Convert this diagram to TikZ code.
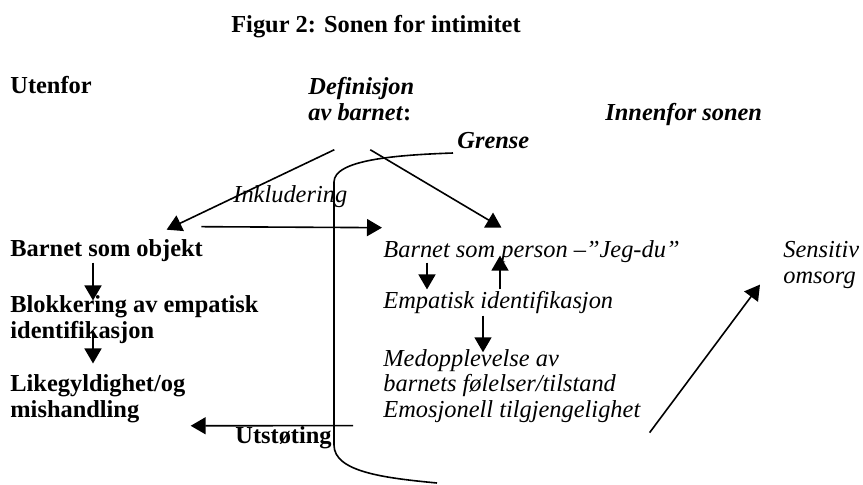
\documentclass[tikz,border=0pt]{standalone}
\usepackage{fontspec}
\setmainfont{Liberation Serif}
\usetikzlibrary{arrows.meta,calc}

\begin{document}
\begin{tikzpicture}[x=0.5pt, y=-0.5pt,
      txt/.style={anchor=base west, inner sep=0pt, align=left,
        font=\fontsize{12.2}{12.6}\selectfont},
      outside/.style={txt, font=\fontsize{12.2}{12.6}\selectfont\bfseries},
      inside/.style={txt, font=\fontsize{12.2}{12.6}\selectfont\itshape},
      heading/.style={txt, font=\fontsize{12.2}{12.6}\selectfont\bfseries\itshape},
      arrow/.style={-{Triangle[length=7.5pt, width=8.5pt]}, line width=0.8pt},
      border/.style={line width=0.8pt}
    ]
      \useasboundingbox (0,0) rectangle (863,484);

      % Title
      \node[outside, anchor=base] (title) at (376,32) {Figur 2: Sonen for intimitet};

      % Headings (multi-line nodes are placed by their last baseline)
      \node[outside] (utenfor) at (10,93) {Utenfor};
      \node[heading] (def) at (308,120) {Definisjon\\av barnet\textup{:}};
      \node[heading] (innenfor) at (605,120) {Innenfor sonen};
      \node[heading] (grense) at (457,148) {Grense};

      % Outside the zone
      \node[outside] (obj) at (10,256) {Barnet som objekt};
      \node[outside] (blokk) at (10,338) {Blokkering av empatisk\\identifikasjon};
      \node[outside] (like) at (10,417) {Likegyldighet/og\\mishandling};
      \node[outside] (ut) at (235,443) {Utstøting};

      % Inside the zone
      \node[inside] (inkl) at (233,202) {Inkludering};
      \node[inside] (person) at (383,257) {Barnet som person --''Jeg-du''};
      \node[inside] (emp) at (383,308) {Empatisk identifikasjon};
      \node[inside] (med) at (383,417) {Medopplevelse av\\barnets følelser/tilstand\\Emosjonell tilgjengelighet};
      \node[inside] (sens) at (783,283) {Sensitiv\\omsorg};

      % Zone boundary
      \draw[border] (453,153) .. controls (395,155) and (334,160) .. (334,182)
        -- (334,445) .. controls (334,472) and (385,478) .. (437,483);

      % Arrows
      \draw[arrow] ($(def.south)+(-27,29)$) -- ($(obj.north)+(60,-9)$);
      \draw[arrow] ($(def.south)+(9,29)$) -- ($(person.north)+(-30,-12)$);
      \draw[arrow] ($(obj.north east)+(-2,-12)$) -- ($(person.north west)+(-1,-12)$);
      \draw[arrow] ($(obj.south west)+(83,1)$) -- ($(blokk.north west)+(83,5)$);
      \draw[arrow] ($(blokk.south west)+(83,-13)$) -- ($(like.north west)+(83,-11)$);
      \draw[arrow] ($(med.south west)+(-30,3)$) -- ($(like.south east)+(5,3)$);
      \draw[arrow] ($(person.south west)+(44,0)$) -- ($(emp.north west)+(44,-1)$);
      \draw[arrow] ($(emp.north west)+(117,-1)$) -- ($(person.south west)+(117,-7)$);
      \draw[arrow] ($(emp.south west)+(100,2)$) -- ($(med.north west)+(100,3)$);
      \draw[arrow] ($(med.south east)+(9,10)$) -- ($(sens.south west)+(-23,-4)$);
    \end{tikzpicture}
\end{document}
